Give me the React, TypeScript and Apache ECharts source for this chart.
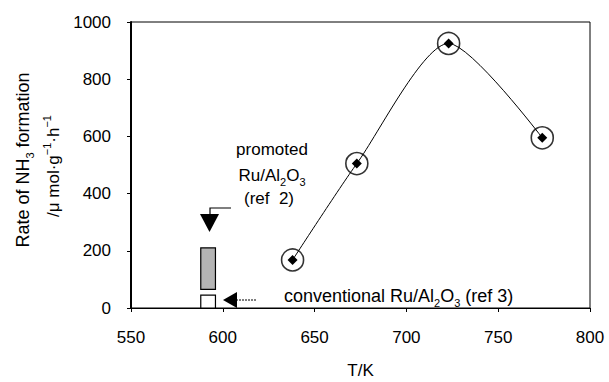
import React, { useEffect, useRef } from "react";
import * as echarts from "echarts";

const tempK = [638, 673, 723, 774];
const rateValues = [168, 505, 925, 595];
// [xStart, xEnd, yLow, yHigh]
const promotedRange = [[588, 596, 65, 210]];
const conventionalRange = [[588, 596, 0, 45]];
const xTicks = { min: 550, max: 800, interval: 50 };
const yTicks = { min: 0, max: 1000, interval: 200 };

const FONT = "'Liberation Sans', Arial, Helvetica, sans-serif";

const makeRich = (size: number) => ({
  n: { fontSize: size, fontFamily: FONT, lineHeight: 24, verticalAlign: "middle" as const, fill: "#000" },
  sub: { fontSize: 11, fontFamily: FONT, lineHeight: 11, verticalAlign: "bottom" as const, fill: "#000" },
  sup: { fontSize: 11, fontFamily: FONT, lineHeight: 11, verticalAlign: "top" as const, fill: "#000" },
});
const richStyles = makeRich(17);

function rectItem(api: any) {
  const p0 = api.coord([api.value(0), api.value(3)]);
  const p1 = api.coord([api.value(1), api.value(2)]);
  return { p0, p1 };
}

export default function App() {
  const ref = useRef<HTMLDivElement>(null);
  useEffect(() => {
    if (!ref.current) return;
    const chart = echarts.init(ref.current, undefined, { renderer: "svg" });
    const option: any = {
      animation: false,
      backgroundColor: "#fff",
      grid: {
        left: 131,
        right: 19,
        top: 22,
        bottom: 74,
        outerBoundsMode: "none",
        containLabel: false,
        show: true,
        borderColor: "#000",
        borderWidth: 1,
        backgroundColor: "transparent",
      },
      xAxis: {
        type: "value",
        min: xTicks.min,
        max: xTicks.max,
        interval: xTicks.interval,
        name: "T/K",
        nameLocation: "middle",
        nameGap: 53,
        nameTextStyle: { fontSize: 17, fontFamily: FONT, color: "#000", lineHeight: 18 },
        axisLine: { show: true, onZero: false, lineStyle: { color: "#000", width: 1 } },
        axisTick: { show: true, length: 4, lineStyle: { color: "#000" } },
        axisLabel: { fontSize: 17, fontFamily: FONT, color: "#000", margin: 21, formatter: (v: number) => String(v) },
        splitLine: { show: false },
      },
      yAxis: {
        type: "value",
        min: yTicks.min,
        max: yTicks.max,
        interval: yTicks.interval,
        axisLine: { show: true, onZero: false, lineStyle: { color: "#000", width: 2 } },
        axisTick: { show: true, length: 4, lineStyle: { color: "#000" } },
        axisLabel: { fontSize: 17, fontFamily: FONT, color: "#000", margin: 20, formatter: (v: number) => String(v) },
        splitLine: { show: false },
      },
      series: [
        {
          type: "custom",
          data: promotedRange,
          renderItem: (params: any, api: any) => {
            const { p0, p1 } = rectItem(api);
            return {
              type: "rect",
              shape: { x: p0[0], y: p0[1], width: p1[0] - p0[0], height: p1[1] - p0[1] },
              style: { fill: "#b4b4b4", stroke: "#000", lineWidth: 1.2 },
            };
          },
          z: 3,
        },
        {
          type: "custom",
          data: conventionalRange,
          renderItem: (params: any, api: any) => {
            const { p0, p1 } = rectItem(api);
            return {
              type: "rect",
              shape: { x: p0[0], y: p0[1], width: p1[0] - p0[0], height: p1[1] - p0[1] },
              style: { fill: "#fff", stroke: "#000", lineWidth: 1.2 },
            };
          },
          z: 3,
        },
        {
          type: "line",
          data: tempK.map((t, i) => [t, rateValues[i]]),
          smooth: 0.25,
          symbol: "diamond",
          symbolSize: 10,
          showSymbol: true,
          lineStyle: { color: "#000", width: 1 },
          itemStyle: { color: "#000" },
          z: 4,
        },
        {
          type: "scatter",
          data: tempK.map((t, i) => [t, rateValues[i]]),
          symbol: "circle",
          symbolSize: 22,
          itemStyle: { color: "rgba(0,0,0,0)", borderColor: "#000", borderWidth: 1.6 },
          z: 5,
        },
      ],
      graphic: [
        {
          type: "text",
          x: 23,
          y: 160,
          rotation: Math.PI / 2,
          style: {
            text: "{n|Rate of NH}{sub|3}{n| formation}",
            rich: makeRich(18),
            align: "center",
            verticalAlign: "middle",
          },
        },
        {
          type: "text",
          x: 53,
          y: 166,
          rotation: Math.PI / 2,
          style: {
            text: "{n|/μ mol·g}{sup|−1}{n|·h}{sup|−1}",
            rich: makeRich(17),
            align: "center",
            verticalAlign: "middle",
          },
        },
        {
          type: "text",
          x: 272,
          y: 149,
          style: { text: "{n|promoted}", rich: richStyles, align: "center", verticalAlign: "middle" },
        },
        {
          type: "text",
          x: 272,
          y: 175,
          style: { text: "{n|Ru/Al}{sub|2}{n|O}{sub|3}", rich: richStyles, align: "center", verticalAlign: "middle" },
        },
        {
          type: "text",
          x: 269,
          y: 198,
          style: { text: "{n|(ref  2)}", rich: richStyles, align: "center", verticalAlign: "middle" },
        },
        {
          type: "text",
          x: 284,
          y: 296,
          style: {
            text: "{n|conventional Ru/Al}{sub|2}{n|O}{sub|3}{n| (ref 3)}",
            rich: makeRich(18),
            align: "left",
            verticalAlign: "middle",
          },
        },
        {
          type: "polyline",
          shape: { points: [[231, 208], [210, 208], [210, 215]] },
          style: { stroke: "#000", lineWidth: 1.2, fill: null },
        },
        {
          type: "polygon",
          shape: { points: [[200, 214], [219, 214], [209.5, 232]] },
          style: { fill: "#000" },
        },
        {
          type: "line",
          shape: { x1: 236, y1: 300, x2: 257, y2: 300 },
          style: { stroke: "#000", lineWidth: 1.2, lineDash: [2, 1] },
        },
        {
          type: "polygon",
          shape: { points: [[223, 300], [237, 292], [237, 308]] },
          style: { fill: "#000" },
        },
      ],
    };
    chart.setOption(option);
    return () => chart.dispose();
  }, []);
  return (
    <div
      ref={ref}
      style={{ position: "fixed", left: 0, top: 0, width: 609, height: 382, background: "#fff" }}
    />
  );
}
